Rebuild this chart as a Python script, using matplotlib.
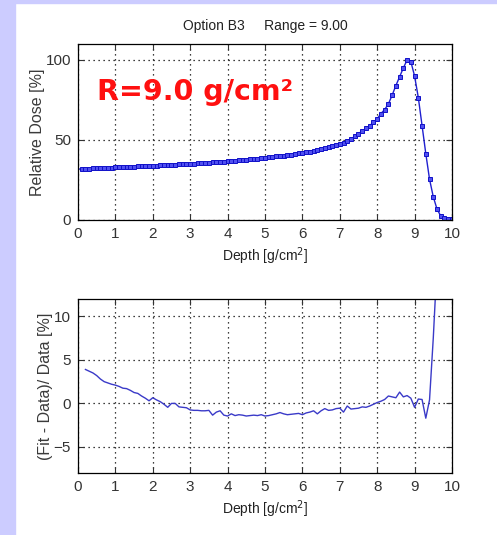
import numpy as np
import matplotlib
matplotlib.use("Agg")
from matplotlib import pyplot as plt
from matplotlib.patches import Rectangle

# depth-dose data, measured every 0.1 g/cm2
depth = np.round(np.arange(0, 101) * 0.1, 1)
dose = [31.8,
        31.9, 32.0, 32.1, 32.2, 32.3, 32.4, 32.5, 32.6, 32.8, 32.9,
        33.0, 33.1, 33.2, 33.3, 33.4, 33.5, 33.6, 33.7, 33.8, 33.9,
        34.0, 34.1, 34.2, 34.3, 34.4, 34.5, 34.7, 34.8, 34.9, 35.1,
        35.2, 35.4, 35.5, 35.7, 35.8, 36.0, 36.1, 36.3, 36.5, 36.7,
        36.9, 37.1, 37.3, 37.5, 37.7, 37.9, 38.1, 38.4, 38.6, 38.9,
        39.1, 39.4, 39.7, 40.0, 40.3, 40.6, 40.9, 41.3, 41.6, 42.0,
        42.4, 42.8, 43.3, 43.7, 44.2, 44.8, 45.4, 46.0, 46.7, 47.5,
        48.4, 49.5, 50.7, 52.2, 54.0, 55.6, 57.3, 59.0, 61.0, 63.2,
        66.5, 69.0, 72.5, 78.0, 84.0, 89.5, 95.0, 100.0, 99.0, 90.0,
        76.5, 59.0, 41.5, 25.5, 14.5, 6.8, 2.5, 1.0, 0.5, 0.4]

# relative deviation of the fit, from 0.2 to 9.6 g/cm2
res_depth = np.round(np.arange(2, 97) * 0.1, 1)
residual = [3.9, 3.7, 3.5, 3.2, 2.8, 2.5, 2.35, 2.2, 2.1,
            1.95, 1.75, 1.7, 1.5, 1.25, 1.15, 0.85, 0.6, 0.3, 0.65,
            0.4, 0.2, -0.1, -0.45, 0.0, 0.0, -0.4, -0.45, -0.5, -0.75,
            -0.8, -0.8, -0.85, -0.85, -0.8, -1.35, -1.0, -0.85, -1.35, -1.45,
            -1.2, -1.4, -1.3, -1.35, -1.45, -1.4, -1.35, -1.4, -1.3, -1.45,
            -1.4, -1.3, -1.2, -1.05, -1.2, -1.3, -1.25, -1.2, -1.15, -1.3,
            -1.1, -1.0, -0.85, -1.2, -0.85, -0.6, -0.8, -0.75, -0.6, -0.55,
            -1.0, -0.3, -0.65, -0.6, -0.55, -0.4, -0.45, -0.3, -0.1, 0.1,
            0.25, 0.45, 0.85, 0.75, 0.65, 1.3, 0.75, 0.9, 0.6, -0.45,
            0.5, 0.45, -1.7, 0.4, 7.5, 16.0]

narrow = ["Liberation Sans Narrow", "Liberation Sans", "DejaVu Sans"]
plain = ["Liberation Sans", "DejaVu Sans"]

fig = plt.figure(figsize=(4.97, 5.35), dpi=100)
fig.patches.append(Rectangle((0, 0), 15 / 497, 1, transform=fig.transFigure,
                             color="#ccccff", zorder=-10))
fig.patches.append(Rectangle((0, 1 - 3 / 535), 1, 3 / 535, transform=fig.transFigure,
                             color="#ccccff", zorder=-10))


def style_axes(ax):
    ax.grid(True, color="black", linestyle=(0, (1, 3)), linewidth=0.9)
    ax.tick_params(direction="in", top=True, right=True, length=4,
                   labelsize=11, width=0.8, colors="#333333", pad=5)
    for lab in ax.get_xticklabels() + ax.get_yticklabels():
        lab.set_family(narrow)
    for sp in ax.spines.values():
        sp.set_linewidth(0.9)
    ax.set_xlim(0, 10)
    ax.set_xticks(range(0, 11))
    ax.set_xlabel("Depth [g/cm$^2$]", family=narrow, fontsize=10, labelpad=3,
                  color="#222222")


ax1 = fig.add_axes([0.1569, 0.5888, 0.7525, 0.3290])
ax1.plot(depth, dose, color="#2020d0", linewidth=1.0)
ax1.plot(depth[1:], dose[1:], linestyle="none", marker="s", markersize=2.2,
         markeredgewidth=0.7, markeredgecolor="#1010c8", markerfacecolor="#5050f0")
ax1.set_ylim(0, 110)
ax1.set_yticks([0, 50, 100])
style_axes(ax1)
ax1.set_ylabel("Relative Dose [%]", family=plain, fontsize=11.5, color="#3a3a3a")
ax1.yaxis.set_label_coords(-0.088, 0.5)
ax1.set_title("Option B3     Range = 9.00", family=narrow, fontsize=10, pad=10,
              color="#222222")

ax2 = fig.add_axes([0.1569, 0.1159, 0.7525, 0.3252])
ax2.plot(res_depth, residual, color="#3a3ac8", linewidth=1.0)
ax2.set_ylim(-8, 12)
ax2.set_yticks([-5, 0, 5, 10])
style_axes(ax2)
ax2.set_ylabel("(Fit - Data)/ Data [%]", family=plain, fontsize=11.5,
               color="#3a3a3a")
ax2.yaxis.set_label_coords(-0.068, 0.5)

fig.text(97 / 497, 1 - 100 / 535, "R=9.0 g/cm\u00b2", color="#ff1010",
         fontsize=20.5, fontweight="bold", family="DejaVu Sans", va="baseline")

fig.savefig("out.png", dpi=100)
